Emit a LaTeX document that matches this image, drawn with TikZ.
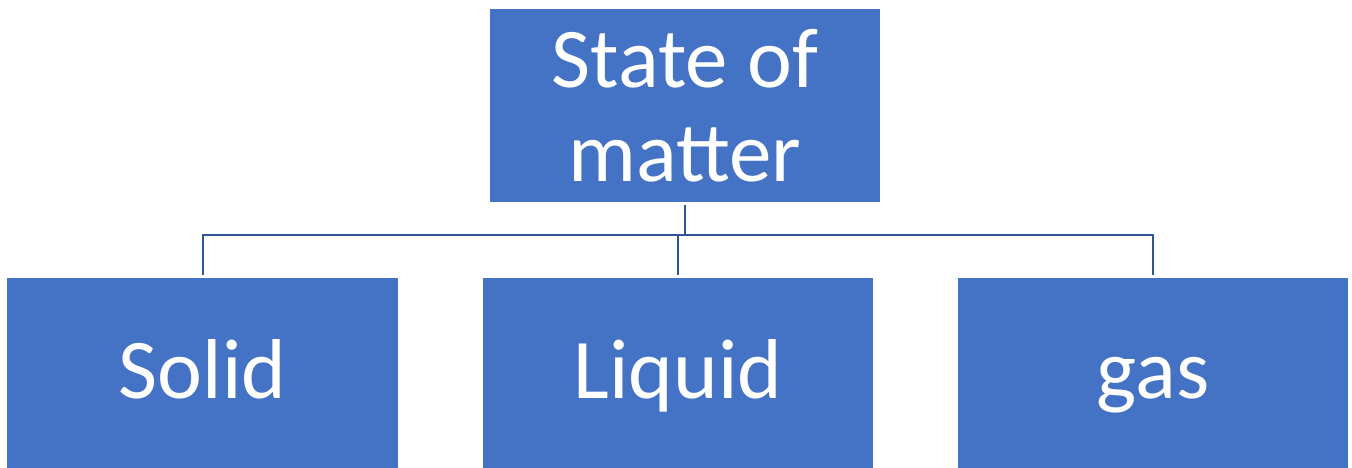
\documentclass[tikz,border=0pt]{standalone}
\usepackage{fontspec}
\setmainfont{Carlito}
\definecolor{boxblue}{HTML}{4472C4}
\definecolor{lineblue}{HTML}{2F5597}
\begin{document}
\begin{tikzpicture}[x=1pt,y=1pt,
  box/.style={fill=boxblue, draw=none, text=white, inner sep=0pt,
    font=\fontsize{85}{94}\selectfont, align=center, anchor=center},
  conn/.style={draw=lineblue, line width=2pt}]
\useasboundingbox (0,0) rectangle (1352,468);
\node[box, minimum width=390pt, minimum height=193pt] (top) at (685,362.5) {State of\\matter};
\node[box, minimum width=391pt, minimum height=192pt, text height=60pt, text depth=10pt] (solid) at (202.5,94) {Solid};
\node[box, minimum width=390pt, minimum height=192pt, text height=60pt, text depth=10pt] (liquid) at (678,94) {Liquid};
\node[box, minimum width=390pt, minimum height=192pt, text height=60pt, text depth=10pt] (gas) at (1153,94) {gas};
\coordinate (bus) at (685,233);
\draw[conn] ([yshift=-3pt]top.south) -- (top.south |- bus);
\draw[conn] ([yshift=3pt]solid.north) |- (bus) -| ([yshift=3pt]gas.north);
\draw[conn] ([yshift=3pt]liquid.north) -- (liquid.north |- bus);
\end{tikzpicture}
\end{document}
